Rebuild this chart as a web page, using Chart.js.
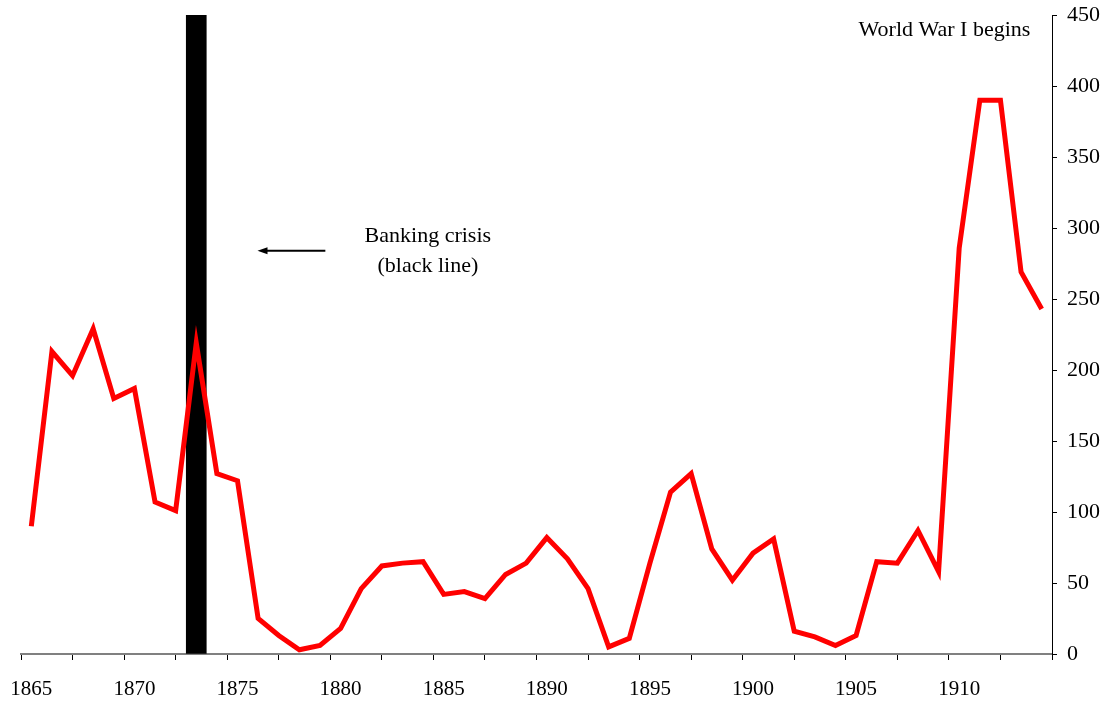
<!DOCTYPE html>
<html>
<head>
<meta charset="utf-8">
<script src="https://cdn.jsdelivr.net/npm/chart.js@4.4.1/dist/chart.umd.min.js"></script>
<style>
  html, body { margin: 0; padding: 0; background: #ffffff; }
  #wrap { width: 1109px; height: 709px; }
</style>
</head>
<body>
<div id="wrap"><canvas id="c" width="1109" height="709"></canvas></div>
<script>
// ---- Data ----
const years = [1865,1866,1867,1868,1869,1870,1871,1872,1873,1874,
               1875,1876,1877,1878,1879,1880,1881,1882,1883,1884,
               1885,1886,1887,1888,1889,1890,1891,1892,1893,1894,
               1895,1896,1897,1898,1899,1900,1901,1902,1903,1904,
               1905,1906,1907,1908,1909,1910,1911,1912,1913,1914];
const values = [90,213,196,229,180,187,107,101,219,127,
                122,25,13,3,6,18,46,62,64,65,
                42,44,39,56,64,82,67,46,5,11,
                64,114,127,74,52,71,81,16,12,6,
                13,65,64,87,58,286,390,390,269,243];
const crisisYears = [1873];
const crisisValues = [450];
const xTickLabels = ['1865','1870','1875','1880','1885','1890','1895','1900','1905','1910'];
const yTickValues = [0,50,100,150,200,250,300,350,400,450];
const notes = [
  { text: 'World War I begins', x: 1913.45, y: 435, align: 'right' },
  { text: 'Banking crisis', x: 1884.23, y: 290, align: 'center' },
  { text: '(black line)', x: 1884.23, y: 269, align: 'center' }
];
const arrowFrom = { x: 1879.26, y: 284 };
const arrowTo = { x: 1875.97, y: 284 };

const FONT = "'Liberation Serif', 'Times New Roman', serif";

const annotationPlugin = {
  id: 'annotations',
  afterDatasetsDraw(chart) {
    const ctx = chart.ctx;
    const xs = chart.scales.x, ys = chart.scales.y;
    ctx.save();
    ctx.fillStyle = '#000';
    ctx.font = '22px ' + FONT;
    ctx.textBaseline = 'alphabetic';
    notes.forEach(n => {
      ctx.textAlign = n.align;
      ctx.fillText(n.text, xs.getPixelForValue(n.x), ys.getPixelForValue(n.y));
    });
    const x1 = xs.getPixelForValue(arrowFrom.x), y1 = ys.getPixelForValue(arrowFrom.y);
    const x2 = xs.getPixelForValue(arrowTo.x), y2 = ys.getPixelForValue(arrowTo.y);
    ctx.strokeStyle = '#000';
    ctx.lineWidth = 2;
    ctx.beginPath();
    ctx.moveTo(x1, y1);
    ctx.lineTo(x2 + 6, y2);
    ctx.stroke();
    ctx.beginPath();
    ctx.moveTo(x2, y2);
    ctx.lineTo(x2 + 10, y2 - 3.5);
    ctx.lineTo(x2 + 10, y2 + 3.5);
    ctx.closePath();
    ctx.fill();
    ctx.restore();
  }
};

new Chart(document.getElementById('c'), {
  type: 'bar',
  data: {
    datasets: [
      {
        type: 'line',
        label: 'Series',
        data: years.map((yr, i) => ({ x: yr, y: values[i] })),
        borderColor: '#FF0000',
        backgroundColor: '#FF0000',
        borderWidth: 5,
        pointRadius: 0,
        tension: 0,
        borderJoinStyle: 'miter',
        borderCapStyle: 'butt',
        fill: false,
        order: 0
      },
      {
        type: 'bar',
        label: 'Banking crisis',
        data: crisisYears.map((yr, i) => ({ x: yr, y: crisisValues[i] })),
        backgroundColor: '#000000',
        borderWidth: 0,
        barThickness: 20,
        order: 1
      }
    ]
  },
  options: {
    responsive: false,
    animation: false,
    devicePixelRatio: 1,
    layout: { padding: { left: 21, top: 15, right: 0, bottom: 0 } },
    plugins: { legend: { display: false }, tooltip: { enabled: false } },
    scales: {
      x: {
        type: 'linear',
        min: 1864.5,
        max: 1914.5,
        offset: false,
        afterBuildTicks: s => {
          const t = [];
          for (let v = s.min; v <= s.max + 1e-9; v += 2.5) t.push({ value: v });
          s.ticks = t;
        },
        afterFit: s => { s.height = 55; s.paddingLeft = 0; s.paddingRight = 0; },
        ticks: {
          autoSkip: false,
          maxRotation: 0,
          minRotation: 0,
          labelOffset: 10.3,
          padding: 17,
          color: '#000',
          font: { family: FONT, size: 21 },
          callback: v => {
            const lbl = String(v + 0.5);
            return xTickLabels.includes(lbl) ? lbl : '';
          }
        },
        grid: { offset: false, drawOnChartArea: false, drawTicks: true, tickLength: 6, color: '#000', tickWidth: 1 },
        border: { display: true, color: '#808080', width: 2 }
      },
      y: {
        type: 'linear',
        position: 'right',
        min: 0,
        max: 450,
        afterBuildTicks: s => { s.ticks = yTickValues.map(v => ({ value: v })); },
        afterFit: s => { s.width = 57; s.paddingTop = 0; s.paddingBottom = 0; },
        ticks: {
          padding: 10,
          color: '#000',
          font: { family: FONT, size: 22 }
        },
        grid: { drawOnChartArea: false, drawTicks: true, tickLength: 5, color: '#000' },
        border: { display: true, color: '#000', width: 1 }
      }
    }
  },
  plugins: [annotationPlugin]
});
</script>
</body>
</html>
